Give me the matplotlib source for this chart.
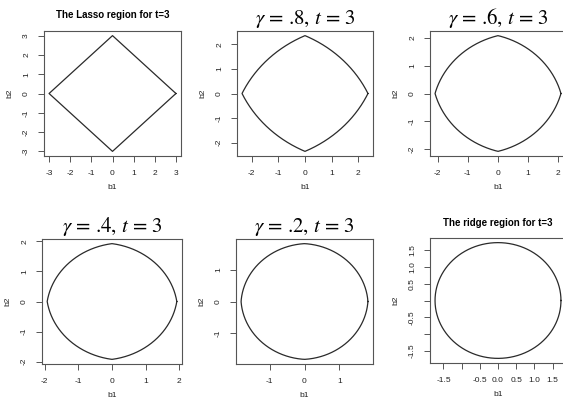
import matplotlib.pyplot as plt
import numpy as np

# elastic-net style constraint: gamma*(|b1|+|b2|) + (1-gamma)*(b1^2+b2^2) <= t
t_val = 3
gammas = [1.0, 0.8, 0.6, 0.4, 0.2, 0.0]
titles = ["The Lasso region for t=3",
          r"$\gamma$ = .8, $t$ = 3", r"$\gamma$ = .6, $t$ = 3",
          r"$\gamma$ = .4, $t$ = 3", r"$\gamma$ = .2, $t$ = 3",
          "The ridge region for t=3"]
tick_sets = [[-3, -2, -1, 0, 1, 2, 3],
             [-2, -1, 0, 1, 2],
             [-2, -1, 0, 1, 2],
             [-2, -1, 0, 1, 2],
             [-1, 0, 1],
             [-1.5, -1.0, -0.5, 0.0, 0.5, 1.0, 1.5]]
yticks_sets = [[-3, -2, -1, 0, 1, 2, 3],
               [-2, -1, 0, 1, 2],
               [-2, -1, 0, 1, 2],
               [-2, -1, 0, 1, 2],
               [-1, 0, 1],
               [-1.5, -1.0, -0.5, 0.0, 0.5, 1.0, 1.5]]
# ridge panel: R drops labels that would overlap
ridge_xlabels = ["-1.5", "", "-0.5", "0.0", "0.5", "1.0", "1.5"]
ridge_ylabels = ["-1.5", "", "-0.5", "", "0.5", "1.0", "1.5"]

# axes boxes in pixels: left, top, right, bottom
boxes = [(44, 31, 181, 156), (237, 31, 373, 156), (430, 31, 566, 156),
         (42, 239, 182, 364), (236, 239, 373, 364), (430, 238, 566, 363)]

W, H = 563, 399
fig = plt.figure(figsize=(W / 100, H / 100), dpi=100)
plt.rcParams['mathtext.fontset'] = 'stix'
plt.rcParams['font.family'] = 'Liberation Sans'


def boundary(gamma, t, n=4000):
    th = np.linspace(0, 2 * np.pi, n + 1)
    s = np.abs(np.cos(th)) + np.abs(np.sin(th))
    if gamma >= 1:
        r = t / s
    else:
        a = 1 - gamma
        r = (-gamma * s + np.sqrt((gamma * s) ** 2 + 4 * a * t)) / (2 * a)
    return r * np.cos(th), r * np.sin(th)


for i, g in enumerate(gammas):
    l, tp, r, b = boxes[i]
    ax = fig.add_axes([l / W, 1 - b / H, (r - l) / W, (b - tp) / H])
    x, y = boundary(g, t_val)
    ax.plot(x, y, color="#2a2a2a", lw=0.9)
    m = np.max(np.abs(x)) * 1.08
    ax.set_xlim(-m, m)
    ax.set_ylim(-m, m)

    ax.set_xticks(tick_sets[i])
    ax.set_yticks(yticks_sets[i])
    if i == 5:
        ax.set_xticklabels(ridge_xlabels)
        ax.set_yticklabels(ridge_ylabels)
    else:
        ax.set_xticklabels([str(v) for v in tick_sets[i]])
        ax.set_yticklabels([str(v) for v in yticks_sets[i]])
    ax.tick_params(labelsize=6, length=4, width=0.7, color="#555555",
                   pad=6, labelcolor="#222222")
    for lab in ax.get_yticklabels():
        lab.set_rotation(90)
        lab.set_va("center")
    for sp in ax.spines.values():
        sp.set_color("#555555")
        sp.set_linewidth(0.8)

    ax.set_xlabel("b1", fontsize=6, labelpad=5, color="#222222")
    ax.set_ylabel("b2", fontsize=6, labelpad=7, color="#222222")
    if i in (0, 5):
        ax.set_title(titles[i], fontsize=7, fontweight="bold", pad=9)
    else:
        ax.set_title(titles[i], fontsize=15, family="STIXGeneral", pad=5)

fig.savefig("out.png", dpi=100)
